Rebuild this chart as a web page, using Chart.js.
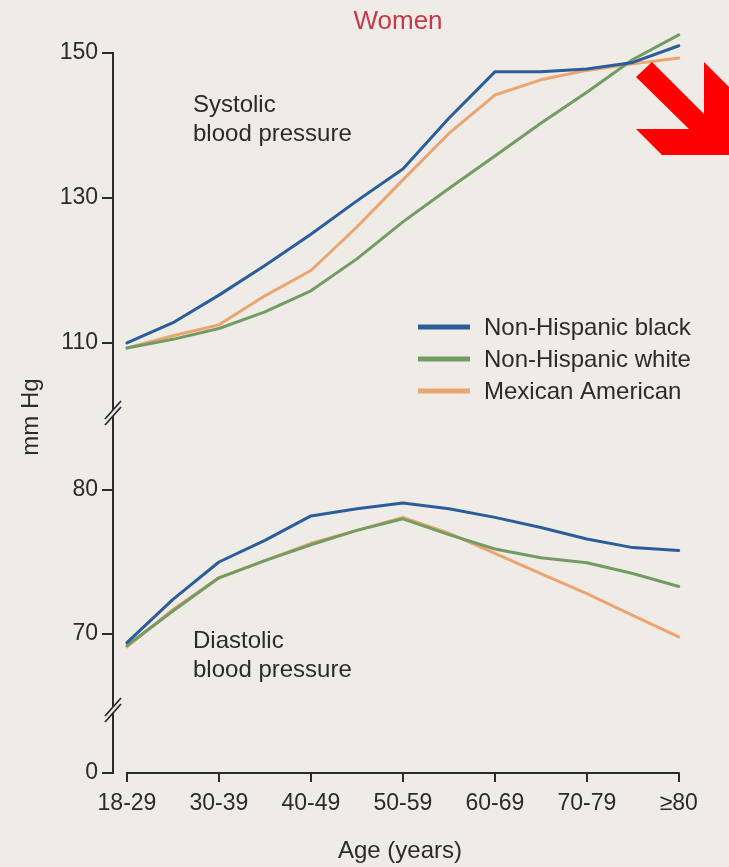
<!DOCTYPE html>
<html>
<head>
<meta charset="utf-8">
<script src="https://cdn.jsdelivr.net/npm/chart.js@4/dist/chart.umd.min.js"></script>
<style>
  html, body { margin: 0; padding: 0; background: #efece8; }
  canvas { display: block; }
</style>
</head>
<body>
<canvas id="bp" width="729" height="867"></canvas>
<script>
// Age groups on the horizontal axis
const categories = ['18-29', '30-39', '40-49', '50-59', '60-69', '70-79', '≥80'];
// Position of each reading along the age axis (group index, with mid-group readings)
const agePos = [0, 0.5, 1, 1.5, 2, 2.5, 3, 3.5, 4, 4.5, 5, 5.5, 6];

const seriesNames = ['Non-Hispanic black', 'Non-Hispanic white', 'Mexican American'];

// Systolic blood pressure, mm Hg
const systolicBlack    = [110.0, 112.8, 116.6, 120.7, 125.0, 129.6, 134.0, 141.0, 147.4, 147.4, 147.8, 148.7, 151.0];
const systolicWhite    = [109.3, 110.5, 112.0, 114.3, 117.2, 121.6, 126.7, 131.3, 135.8, 140.3, 144.6, 149.1, 152.5];
const systolicMexican  = [109.3, 111.0, 112.5, 116.5, 120.0, 126.0, 132.5, 138.9, 144.2, 146.3, 147.6, 148.5, 149.3];

// Diastolic blood pressure, mm Hg
const diastolicBlack   = [69.4, 72.4, 75.0, 76.5, 78.2, 78.7, 79.1, 78.7, 78.1, 77.4, 76.6, 76.0, 75.8];
const diastolicWhite   = [69.2, 71.6, 73.9, 75.1, 76.2, 77.2, 78.0, 76.9, 75.9, 75.3, 74.95, 74.2, 73.3];
const diastolicMexican = [69.1, 71.7, 73.9, 75.1, 76.3, 77.2, 78.1, 77.0, 75.6, 74.2, 72.8, 71.3, 69.8];

// Tick values on the three stacked pieces of the broken y axis
const systolicTicks = [110, 130, 150];
const diastolicTicks = [70, 80];
const baseTicks = [0];

// Visible ranges of each axis piece
const systolicRange = [100.34, 150];
const diastolicRange = [64.72, 85.35];
const baseRange = [0, 10];

const colors = ['#2c5d9b', '#739c63', '#eba570'];
const ink = '#2b2b2b';
const bg = '#efece8';
const fontFamily = '"Liberation Sans", Arial, Helvetica, sans-serif';

function points(values) {
  return values.map((v, i) => ({ x: agePos[i], y: v }));
}

function lineSet(label, values, axis, color) {
  return {
    label: label,
    data: points(values),
    yAxisID: axis,
    borderColor: color,
    backgroundColor: color,
    borderWidth: 3,
    pointRadius: 0,
    tension: 0,
    fill: false,
    clip: false,
    borderJoinStyle: 'round',
    borderCapStyle: 'round'
  };
}

function fixedTicks(values) {
  return function (scale) {
    scale.ticks = values.map(v => ({ value: v }));
  };
}

function yAxis(range, ticks, weight, order) {
  return {
    type: 'linear',
    position: 'left',
    stack: 'pressure',
    stackWeight: weight,
    weight: order,
    min: range[0],
    max: range[1],
    afterBuildTicks: fixedTicks(ticks),
    afterFit: function (scale) { scale.width = 113; },
    ticks: {
      color: ink,
      font: { family: fontFamily, size: 23 },
      padding: 4,
      autoSkip: false
    },
    grid: {
      drawOnChartArea: false,
      drawTicks: true,
      tickLength: 11,
      color: ink,
      lineWidth: 2
    },
    border: { display: true, color: ink, width: 2 }
  };
}

// Background, texts, legend, axis breaks and the x axis line
const decorations = {
  id: 'decorations',
  beforeDraw(chart) {
    const ctx = chart.ctx;
    ctx.save();
    ctx.fillStyle = bg;
    ctx.fillRect(0, 0, chart.width, chart.height);
    ctx.restore();
  },
  afterDraw(chart) {
    const ctx = chart.ctx;
    const area = chart.chartArea;
    const x = chart.scales.x;
    const left = area.left;

    ctx.save();

    // x axis line between the first and last age group
    ctx.strokeStyle = ink;
    ctx.lineWidth = 2;
    ctx.beginPath();
    ctx.moveTo(x.getPixelForValue(0) - 1, area.bottom);
    ctx.lineTo(x.getPixelForValue(categories.length - 1) + 1, area.bottom);
    ctx.stroke();

    // break marks where the y axis pieces meet
    const breaks = [chart.scales.ySys.bottom, chart.scales.yDia.bottom];
    breaks.forEach(b => {
      ctx.fillStyle = bg;
      ctx.fillRect(left - 4, b - 3, 8, 6);
      ctx.strokeStyle = ink;
      ctx.lineWidth = 1.8;
      [-3, 3].forEach(o => {
        ctx.beginPath();
        ctx.moveTo(left - 8, b + o + 9);
        ctx.lineTo(left + 8, b + o - 9);
        ctx.stroke();
      });
    });

    // titles and labels
    ctx.fillStyle = '#c23a4b';
    ctx.font = '26px ' + fontFamily;
    ctx.textAlign = 'center';
    ctx.textBaseline = 'alphabetic';
    ctx.fillText('Women', 398, 29);

    ctx.fillStyle = ink;
    ctx.font = '24px ' + fontFamily;
    ctx.fillText('Age (years)', 400, 858);

    ctx.save();
    ctx.translate(31, 417);
    ctx.rotate(-Math.PI / 2);
    ctx.textBaseline = 'middle';
    ctx.fillText('mm Hg', 0, 0);
    ctx.restore();

    ctx.textAlign = 'left';
    ctx.fillText('Systolic', 193, 112);
    ctx.fillText('blood pressure', 193, 141);
    ctx.fillText('Diastolic', 193, 648);
    ctx.fillText('blood pressure', 193, 677);

    // legend
    ctx.textBaseline = 'middle';
    seriesNames.forEach((name, i) => {
      const y = 327 + i * 32;
      ctx.strokeStyle = colors[i];
      ctx.lineWidth = 5;
      ctx.lineCap = 'butt';
      ctx.beginPath();
      ctx.moveTo(418, y);
      ctx.lineTo(470, y);
      ctx.stroke();
      ctx.fillStyle = ink;
      ctx.fillText(name, 484, y + 1);
    });

    // red pointer arrow in the top right corner
    ctx.fillStyle = '#ff0000';
    ctx.beginPath();
    const arrow = [[652, 62], [704, 114], [704, 62], [730, 88], [730, 155], [662, 155], [636, 129], [689, 129], [636, 77]];
    arrow.forEach((p, i) => (i ? ctx.lineTo(p[0], p[1]) : ctx.moveTo(p[0], p[1])));
    ctx.closePath();
    ctx.fill();

    ctx.restore();
  }
};

new Chart(document.getElementById('bp'), {
  type: 'line',
  data: {
    datasets: [
      lineSet(seriesNames[0], systolicBlack, 'ySys', colors[0]),
      lineSet(seriesNames[1], systolicWhite, 'ySys', colors[1]),
      lineSet(seriesNames[2], systolicMexican, 'ySys', colors[2]),
      lineSet(seriesNames[0], diastolicBlack, 'yDia', colors[0]),
      lineSet(seriesNames[1], diastolicWhite, 'yDia', colors[1]),
      lineSet(seriesNames[2], diastolicMexican, 'yDia', colors[2])
    ]
  },
  options: {
    responsive: false,
    animation: false,
    events: [],
    layout: { padding: { top: 53, right: 41, bottom: 0, left: 0 } },
    plugins: { legend: { display: false }, tooltip: { enabled: false }, title: { display: false } },
    scales: {
      x: {
        type: 'linear',
        min: -0.152,
        max: 6.1,
        afterBuildTicks: fixedTicks(categories.map((c, i) => i)),
        afterFit: function (scale) { scale.height = 94; },
        ticks: {
          color: ink,
          font: { family: fontFamily, size: 23 },
          padding: 8,
          maxRotation: 0,
          autoSkip: false,
          callback: v => categories[Math.round(v)]
        },
        grid: { drawOnChartArea: false, drawTicks: true, tickLength: 9, color: ink, lineWidth: 2 },
        border: { display: false }
      },
      ySys: yAxis(systolicRange, systolicTicks, 360, 3),
      yDia: yAxis(diastolicRange, diastolicTicks, 297, 2),
      yBase: yAxis(baseRange, baseTicks, 63, 1)
    }
  },
  plugins: [decorations]
});
</script>
</body>
</html>
